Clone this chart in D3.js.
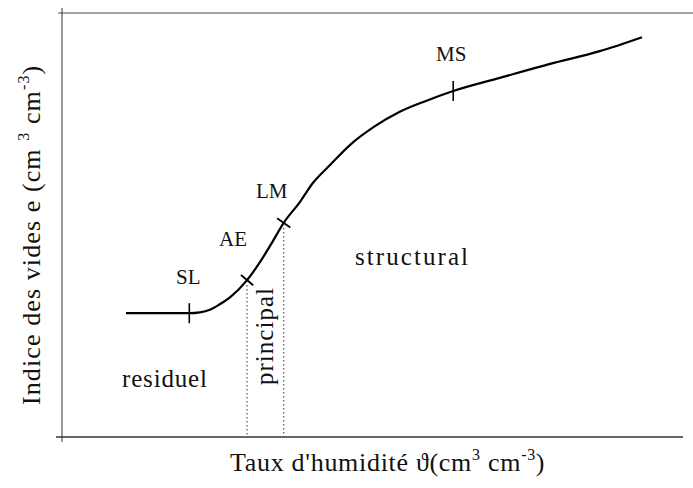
<!DOCTYPE html>
<html><head><meta charset="utf-8">
<script src="https://cdn.jsdelivr.net/npm/d3@7/dist/d3.min.js"></script>
<style>html,body{margin:0;padding:0;background:#fff;} svg{display:block;} text{font-family:"Liberation Serif","Times New Roman",serif;fill:#111;}</style>
</head><body>
<svg id="c" width="693" height="488"></svg>
<script>
// water content theta (arbitrary units 0-100) and void ratio e (arbitrary units 0-100)
const theta = [10.3, 20.5, 22.2, 23.8, 25.4, 27.1, 29.8, 31.9, 33.8, 35.7, 38.3, 40.4, 43.2, 46.4, 50.4, 54.4, 58.5, 63.0, 70.5, 78.6, 86.6, 93.4];
const voidRatio = [29.2, 29.2, 29.4, 30.0, 31.3, 33.0, 37.0, 41.3, 45.8, 50.5, 55.4, 59.9, 64.2, 68.9, 73.3, 76.7, 79.2, 81.6, 84.7, 88.0, 91.0, 94.3];
// characteristic points
const markerNames = ["SL", "AE", "LM", "MS"];
const markerTheta = [20.5, 29.8, 35.7, 63.0];
const markerE = [29.2, 37.0, 50.5, 81.6];
// domain labels
const domainNames = ["residuel", "principal", "structural"];

const svg = d3.select("#c");
const x = d3.scaleLinear().domain([0, 100]).range([62, 683]);
const y = d3.scaleLinear().domain([0, 100]).range([437, 13]);

// frame: top border, left and bottom axes
svg.append("line").attr("x1", 58).attr("x2", 693).attr("y1", y(100)).attr("y2", y(100)).attr("stroke", "#444").attr("stroke-width", 1);
svg.append("line").attr("x1", x(0)).attr("x2", x(0)).attr("y1", y(100) - 5).attr("y2", y(0) + 5).attr("stroke", "#333").attr("stroke-width", 1);
svg.append("line").attr("x1", x(0) - 6).attr("x2", x(100)).attr("y1", y(0)).attr("y2", y(0)).attr("stroke", "#333").attr("stroke-width", 1.3);

// dotted lines from AE and LM to x axis
[1, 2].forEach(i => {
  svg.append("line").attr("x1", x(markerTheta[i])).attr("x2", x(markerTheta[i]))
    .attr("y1", y(markerE[i]) + 5).attr("y2", y(0))
    .attr("stroke", "#555").attr("stroke-width", 1.2).attr("stroke-dasharray", "1.5,2.5");
});

// curve
const pts = theta.map((t, i) => [t, voidRatio[i]]);
const line = d3.line().x(d => x(d[0])).y(d => y(d[1])).curve(d3.curveMonotoneX);
svg.append("path").attr("d", line(pts)).attr("fill", "none").attr("stroke", "#000").attr("stroke-width", 2.2);

// markers
const vertical = [true, false, false, true];
markerNames.forEach((n, i) => {
  const cx = x(markerTheta[i]), cy = y(markerE[i]);
  if (vertical[i]) {
    svg.append("line").attr("x1", cx).attr("x2", cx).attr("y1", cy - 10).attr("y2", cy + 10).attr("stroke", "#000").attr("stroke-width", 1.6);
  } else {
    const j = theta.findIndex(t => t >= markerTheta[i]);
    const dx = x(theta[j + 1]) - x(theta[j - 1]), dy = y(voidRatio[j + 1]) - y(voidRatio[j - 1]);
    const L = Math.hypot(dx, dy);
    const px = -dy / L * 8, py = dx / L * 8;
    svg.append("line").attr("x1", cx - px).attr("x2", cx + px).attr("y1", cy - py).attr("y2", cy + py).attr("stroke", "#000").attr("stroke-width", 1.8);
  }
});
const labOff = [[-1, -29], [-14, -34], [-12, -25], [-2, -30]];
markerNames.forEach((n, i) => {
  svg.append("text").attr("x", x(markerTheta[i]) + labOff[i][0]).attr("y", y(markerE[i]) + labOff[i][1])
    .attr("text-anchor", "middle").attr("font-size", 21).text(n);
});

// domain labels
svg.append("text").attr("x", 122).attr("y", 387).attr("font-size", 25).attr("textLength", 85).attr("lengthAdjust", "spacing").text(domainNames[0]);
svg.append("text").attr("transform", "translate(273,385) rotate(-90)").attr("font-size", 25).attr("textLength", 97).attr("lengthAdjust", "spacing").text(domainNames[1]);
svg.append("text").attr("x", 355).attr("y", 265).attr("font-size", 25).attr("textLength", 113).attr("lengthAdjust", "spacing").text(domainNames[2]);

// axis titles
const xt = svg.append("text").attr("x", 230).attr("y", 471).attr("font-size", 26).attr("letter-spacing", 0.7);
xt.append("tspan").text("Taux d'humidité ");
xt.append("tspan").text("ϑ");
xt.append("tspan").text("(cm");
xt.append("tspan").attr("dy", -11).attr("font-size", 16).text("3");
xt.append("tspan").attr("dy", 11).text(" cm");
xt.append("tspan").attr("dy", -11).attr("font-size", 16).text("-3");
xt.append("tspan").attr("dy", 11).text(")");

const yt = svg.append("text").attr("transform", "translate(40,405) rotate(-90)").attr("font-size", 26).attr("letter-spacing", 1.1);
yt.append("tspan").text("Indice des vides e (cm ");
yt.append("tspan").attr("dy", -11).attr("font-size", 16).text("3");
yt.append("tspan").attr("dy", 11).text("  cm");
yt.append("tspan").attr("dy", -11).attr("font-size", 16).text("-3");
yt.append("tspan").attr("dy", 11).text(")");
</script>
</body></html>
